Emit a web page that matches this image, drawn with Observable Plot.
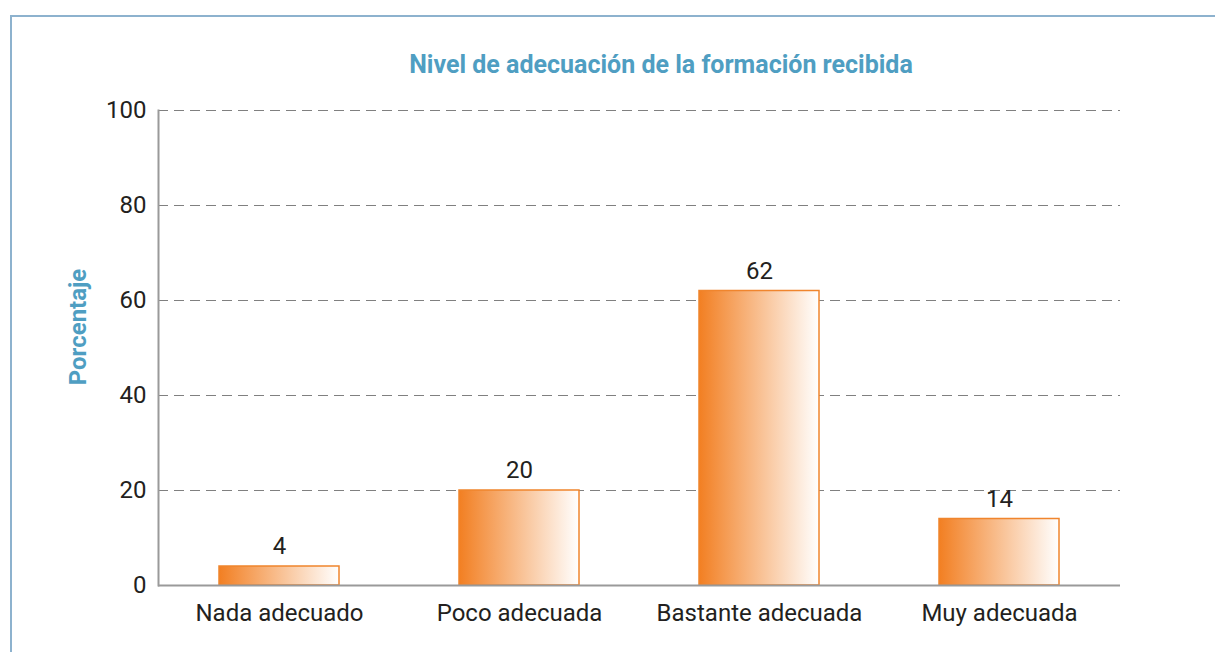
<!DOCTYPE html>
<html>
<head>
<meta charset="utf-8">
<script src="https://cdn.jsdelivr.net/npm/d3@7"></script>
<script src="https://cdn.jsdelivr.net/npm/@observablehq/plot@0.6"></script>
<style>
  body { margin: 0; background: #fff; font-family: Roboto, sans-serif; }
  #wrap { position: relative; width: 1215px; height: 652px; overflow: hidden; }
  #frame { position: absolute; left: 10px; top: 15px; width: 1210px; height: 650px;
           border-top: 2px solid #8db2ce; border-left: 2px solid #8db2ce; }
  #title { position: absolute; left: 661px; top: 64px; transform: translate(-50%, -50%);
           font-weight: 700; font-size: 25px; color: #4f9ec2; white-space: nowrap; }
  #ylab { position: absolute; left: 78px; top: 327px; transform: translate(-50%, -50%) rotate(-90deg);
          font-weight: 700; font-size: 24px; color: #4f9ec2; white-space: nowrap; }
  #chart { position: absolute; left: 0; top: 0; }
</style>
</head>
<body>
<div id="wrap">
  <div id="frame"></div>
  <div id="chart"></div>
  <div id="title">Nivel de adecuación de la formación recibida</div>
  <div id="ylab">Porcentaje</div>
</div>
<script>
const categories = ["Nada adecuado", "Poco adecuada", "Bastante adecuada", "Muy adecuada"];
const values = [4, 20, 62, 14];
const yTicks = [0, 20, 40, 60, 80, 100];

const data = categories.map((c, i) => ({category: c, value: values[i]}));

const chart = Plot.plot({
  width: 1215,
  height: 652,
  marginLeft: 158,
  marginRight: 95,
  marginTop: 110,
  marginBottom: 67,
  style: {fontFamily: "Roboto, sans-serif", fontSize: "24px", color: "#231f20", background: "transparent"},
  x: {domain: categories, paddingInner: 0.5, paddingOuter: 0.25, label: null},
  y: {domain: [0, 100], label: null},
  marks: [
    Plot.gridY(yTicks.filter(d => d > 0), {stroke: "#808080", strokeOpacity: 1, strokeDasharray: "10,6", strokeWidth: 1}),
    Plot.barY(data, {x: "category", y: "value", fill: "url(#barGrad)", stroke: "#f0852d", strokeWidth: 1.5}),
    Plot.text(data, {x: "category", y: "value", text: d => String(d.value), dy: -20, fontSize: 24, fill: "#231f20"}),
    Plot.ruleY([0], {stroke: "#9a9a9a", strokeWidth: 2}),
    Plot.frame({anchor: "left", stroke: "#9a9a9a", strokeWidth: 2}),
    Plot.axisY({ticks: yTicks, tickSize: 0, tickPadding: 12, fontSize: 24, label: null}),
    Plot.axisX({tickSize: 0, tickPadding: 18, fontSize: 24, label: null})
  ]
});

const defs = d3.select(chart).insert("defs", ":first-child");
const g = defs.append("linearGradient").attr("id", "barGrad").attr("x1", "0").attr("x2", "1").attr("y1", "0").attr("y2", "0");
g.append("stop").attr("offset", "0%").attr("stop-color", "#f27f22");
g.append("stop").attr("offset", "100%").attr("stop-color", "#ffffff");

document.getElementById("chart").appendChild(chart);
</script>
</body>
</html>
